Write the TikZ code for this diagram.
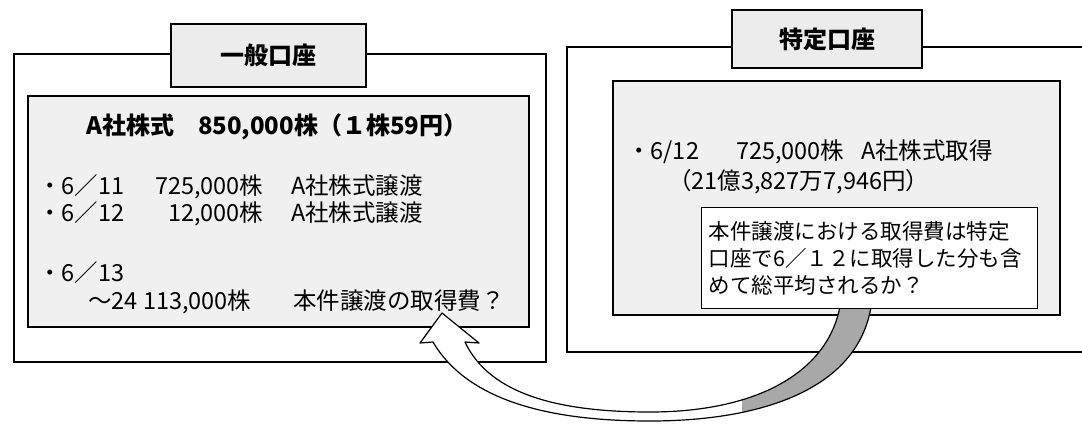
\documentclass[tikz,border=0pt]{standalone}
\usepackage{fontspec}
\setmainfont{Noto Sans CJK JP}
\definecolor{boxgray}{RGB}{240,240,240}
\definecolor{tabgray}{RGB}{236,236,236}
\definecolor{ribbongray}{RGB}{168,168,168}
\def\ribbonshape{(442,313) -- (479,343) -- (465,342) .. controls (490,395) and (560,412) .. (650,412) .. controls (760,412) and (832,370) .. (841,300) -- (872,300) .. controls (862,390) and (760,421) .. (650,421) .. controls (560,421) and (470,405) .. (433,342) -- (420,343) -- cycle}
\begin{document}
\begin{tikzpicture}[x=1pt,y=-1pt,
  line/.style={draw=black, line width=1.2pt},
  innerbox/.style={line, fill=boxgray},
  tabbox/.style={line, fill=tabgray, inner sep=0pt, font=\fontsize{24}{28}\selectfont\bfseries},
  txt/.style={anchor=base west, inner sep=0pt, font=\fontsize{23.5}{27}\selectfont},
  hdr/.style={anchor=base west, inner sep=0pt, font=\fontsize{24}{28}\selectfont\bfseries},
  calltxt/.style={line, fill=white, anchor=north west, minimum width=336pt, minimum height=101pt,
    text width=322pt, align=left, inner xsep=7pt, inner ysep=0pt, font=\fontsize{21.5}{27}\selectfont}]
\useasboundingbox (0,0) rectangle (1082,424);
% left panel
\draw[line] (14,54) rectangle (546,362);
\draw[innerbox] (28,96) rectangle (529,327);
\node[tabbox, minimum width=195pt, minimum height=63pt] (tabL) at (268.5,55.5) {一般口座};
\node[hdr] (hL) at (86,134) {A社株式　850,000株（１株59円）};
\node[txt] (l1a) at (38,194) {・6／11};
\node[txt] (l1b) at (155,194) {725,000株};
\node[txt] (l1c) at (291,194) {A社株式譲渡};
\node[txt] (l2a) at (38,221) {・6／12};
\node[txt] (l2b) at (168,221) {12,000株};
\node[txt] (l2c) at (291,221) {A社株式譲渡};
\node[txt] (l3a) at (38,281) {・6／13};
\node[txt] (l4a) at (88,309) {～24};
\node[txt] (l4b) at (143,309) {113,000株};
\node[txt] (l4c) at (293,309) {本件譲渡の取得費？};
% right panel
\draw[line] (1082,47) -- (567,47) -- (567,352) -- (1082,352);
\draw[innerbox] (613,81) rectangle (1060,315);
\node[tabbox, minimum width=190pt, minimum height=58pt] (tabR) at (827,39) {特定口座};
\node[txt] (r1a) at (627,159) {・6/12};
\node[txt] (r1b) at (736,159) {725,000株};
\node[txt] (r1c) at (861,159) {A社株式取得};
\node[txt] (r2) at (668,189) {（21億3,827万7,946円）};
% ribbon arrow
\fill[white] \ribbonshape;
\begin{scope}
\clip (742,250) rectangle (900,430);
\fill[ribbongray] \ribbonshape;
\end{scope}
\draw[line, line join=round] \ribbonshape;
% callout
\node[calltxt] (callout) at (701,207) {本件譲渡における取得費は特定\\口座で6／１２に取得した分も含\\めて総平均されるか？};
\end{tikzpicture}
\end{document}
